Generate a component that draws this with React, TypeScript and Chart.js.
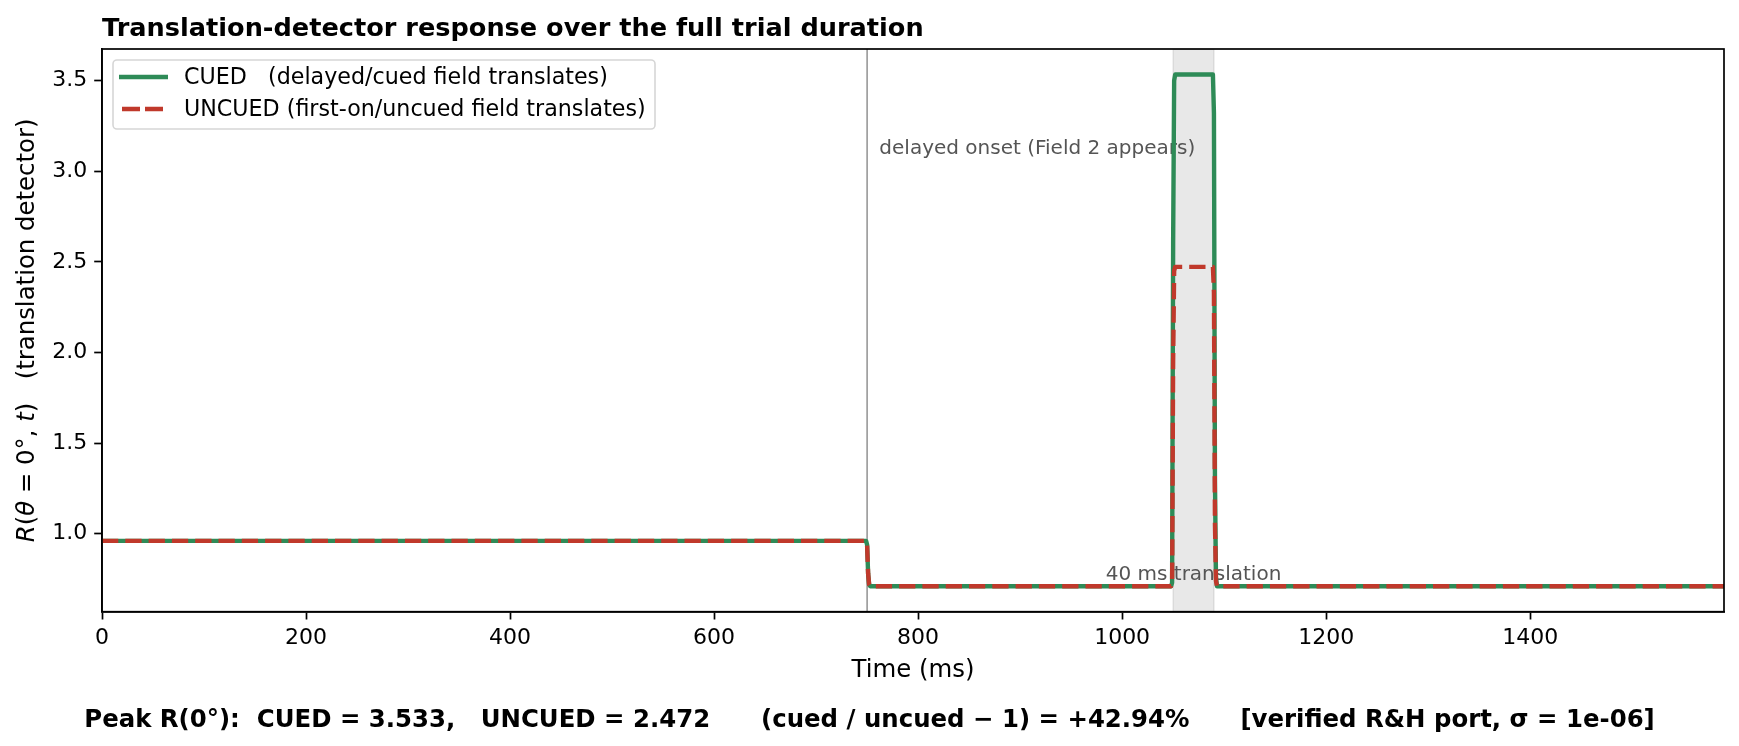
import React, { useEffect, useRef } from "react";
import { Chart, registerables } from "chart.js";

Chart.register(...registerables);

// ---- data ----
const timeMs = [0, 749, 750, 751, 752, 753, 1048, 1049, 1050, 1051, 1052, 1089, 1090, 1091, 1092, 1093, 1590];
const cuedR = [0.96, 0.96, 0.94, 0.78, 0.72, 0.71, 0.71, 0.73, 2.6, 3.5, 3.533, 3.533, 3.32, 1.3, 0.76, 0.71, 0.71];
const uncuedR = [0.96, 0.96, 0.94, 0.78, 0.72, 0.71, 0.71, 0.72, 1.95, 2.45, 2.472, 2.472, 2.33, 1.05, 0.74, 0.71, 0.71];
const xTicks = [0, 200, 400, 600, 800, 1000, 1200, 1400];
const yTicks = [1.0, 1.5, 2.0, 2.5, 3.0, 3.5];
const xRange = [0, 1590];
const yRange = [0.5695, 3.674];
const onsetMs = 750;
const translationWindow = [1050, 1090];
const seriesLabels = ["CUED   (delayed/cued field translates)", "UNCUED (first-on/uncued field translates)"];
const titleText = "Translation-detector response over the full trial duration";
const xLabel = "Time (ms)";
const footerText = "Peak R(0°):  CUED = 3.533,   UNCUED = 2.472      (cued / uncued \u2212 1) = +42.94%      [verified R&H port, \u03c3 = 1e-06]";
const onsetText = "delayed onset (Field 2 appears)";
const windowText = "40 ms translation";

const GREEN = "#2e8b57";
const RED = "#c0392b";
const FONT = "'DejaVu Sans', sans-serif";
const W = 1739;
const H = 746;
const LW = 4.4;
const DASH = [16.3, 7];

const overlay = {
  id: "overlay",
  beforeDatasetsDraw(chart: any) {
    const { ctx, chartArea: a, scales } = chart;
    const x = scales.x;
    const y = scales.y;
    ctx.save();
    ctx.beginPath();
    ctx.rect(a.left, a.top, a.right - a.left, a.bottom - a.top);
    ctx.clip();
    // shaded window
    const x0 = x.getPixelForValue(translationWindow[0]);
    const x1 = x.getPixelForValue(translationWindow[1]);
    ctx.fillStyle = "rgba(128,128,128,0.18)";
    ctx.fillRect(x0, a.top, x1 - x0, a.bottom - a.top);
    ctx.strokeStyle = "rgba(128,128,128,0.18)";
    ctx.lineWidth = 1.5;
    ctx.strokeRect(x0, a.top, x1 - x0, a.bottom - a.top);
    // onset line
    const xo = x.getPixelForValue(onsetMs);
    ctx.strokeStyle = "#808080";
    ctx.lineWidth = 1.3;
    ctx.beginPath();
    ctx.moveTo(xo, a.top);
    ctx.lineTo(xo, a.bottom);
    ctx.stroke();
    // annotations
    ctx.fillStyle = "#555555";
    ctx.font = `20px ${FONT}`;
    ctx.textBaseline = "middle";
    ctx.textAlign = "left";
    ctx.fillText(onsetText, x.getPixelForValue(762), y.getPixelForValue(3.122));
    ctx.textAlign = "center";
    ctx.fillText(windowText, x.getPixelForValue(1070), y.getPixelForValue(0.775));
    ctx.restore();
  },
  afterDraw(chart: any) {
    const { ctx, chartArea: a } = chart;
    ctx.save();
    // frame
    ctx.strokeStyle = "#000";
    ctx.lineWidth = 1.7;
    ctx.strokeRect(a.left, a.top, a.right - a.left, a.bottom - a.top);

    // legend
    const lx = 113, ly = 60, lw = 542, lh = 69;
    ctx.fillStyle = "rgba(255,255,255,0.8)";
    ctx.strokeStyle = "#d6d6d6";
    ctx.lineWidth = 1.6;
    ctx.beginPath();
    (ctx as any).roundRect(lx, ly, lw, lh, 4);
    ctx.fill();
    ctx.stroke();
    const rows = [77, 109];
    const colors = [GREEN, RED];
    for (let i = 0; i < 2; i++) {
      ctx.strokeStyle = colors[i];
      ctx.lineWidth = LW;
      ctx.lineCap = "butt";
      ctx.setLineDash(i === 1 ? [18, 5] : []);
      ctx.beginPath();
      ctx.moveTo(i === 1 ? 122 : 119, rows[i]);
      ctx.lineTo(i === 1 ? 163 : 168, rows[i]);
      ctx.stroke();
      ctx.setLineDash([]);
      ctx.fillStyle = "#000";
      ctx.font = `22.2px ${FONT}`;
      ctx.textAlign = "left";
      ctx.textBaseline = "middle";
      ctx.fillText(seriesLabels[i], 184, rows[i] + 1);
    }

    // title
    ctx.fillStyle = "#000";
    ctx.font = `bold 25.6px ${FONT}`;
    ctx.textAlign = "left";
    ctx.textBaseline = "alphabetic";
    ctx.fillText(titleText, a.left, 36);

    // x label
    ctx.font = `24.4px ${FONT}`;
    ctx.textAlign = "center";
    ctx.textBaseline = "middle";
    ctx.fillText(xLabel, (a.left + a.right) / 2, 671);

    // footer
    ctx.font = `bold 24.4px ${FONT}`;
    ctx.fillText(footerText, W / 2, 721);

    // y label with italic math parts
    const segs: [string, boolean][] = [
      ["R", true], ["(", false], ["\u03b8", true], [" = 0°, ", false], ["t", true], [")   (translation detector)", false],
    ];
    const fontN = `24.4px ${FONT}`;
    const fontI = `italic 24.4px ${FONT}`;
    let total = 0;
    for (const [s, it] of segs) {
      ctx.font = it ? fontI : fontN;
      total += ctx.measureText(s).width;
    }
    ctx.translate(28, (a.top + a.bottom) / 2);
    ctx.rotate(-Math.PI / 2);
    ctx.textAlign = "left";
    ctx.textBaseline = "middle";
    let cx = -total / 2;
    for (const [s, it] of segs) {
      ctx.font = it ? fontI : fontN;
      ctx.fillText(s, cx, 0);
      cx += ctx.measureText(s).width;
    }
    ctx.restore();
  },
};

export default function App() {
  const ref = useRef<HTMLCanvasElement | null>(null);
  useEffect(() => {
    document.body.style.margin = "0";
    const canvas = ref.current!;
    const chart = new Chart(canvas, {
      type: "line",
      data: {
        datasets: [
          {
            label: seriesLabels[0],
            data: timeMs.map((t, i) => ({ x: t, y: cuedR[i] })),
            borderColor: GREEN,
            borderWidth: LW,
            pointRadius: 0,
            tension: 0,
            order: 2,
            borderJoinStyle: "round",
          },
          {
            label: seriesLabels[1],
            data: timeMs.map((t, i) => ({ x: t, y: uncuedR[i] })),
            borderColor: RED,
            borderWidth: LW,
            borderDash: DASH,
            borderCapStyle: "butt",
            pointRadius: 0,
            tension: 0,
            order: 1,
            borderJoinStyle: "round",
          },
        ],
      },
      options: {
        animation: false,
        responsive: false,
        devicePixelRatio: 1,
        layout: { padding: { top: 49, right: 15, left: 0, bottom: 0 } },
        plugins: { legend: { display: false }, title: { display: false }, tooltip: { enabled: false } },
        scales: {
          x: {
            type: "linear",
            min: xRange[0],
            max: xRange[1],
            afterFit: (s: any) => { s.height = 134.3; },
            afterBuildTicks: (s: any) => { s.ticks = xTicks.map((v) => ({ value: v })); },
            border: { display: true, color: "#000", width: 1.7 },
            grid: { drawOnChartArea: false, drawTicks: true, tickLength: 7.8, color: "#000", tickWidth: 1.7 },
            ticks: {
              padding: 6,
              color: "#000",
              font: { family: FONT, size: 22 },
              maxRotation: 0,
              autoSkip: false,
              callback: (v: any) => String(v),
            },
          },
          y: {
            type: "linear",
            min: yRange[0],
            max: yRange[1],
            afterFit: (s: any) => { s.width = 102; },
            afterBuildTicks: (s: any) => { s.ticks = yTicks.map((v) => ({ value: v })); },
            border: { display: true, color: "#000", width: 1.7 },
            grid: { drawOnChartArea: false, drawTicks: true, tickLength: 7.8, color: "#000", tickWidth: 1.7 },
            ticks: {
              padding: 7,
              color: "#000",
              autoSkip: false,
              font: { family: FONT, size: 22 },
              callback: (v: any) => Number(v).toFixed(1),
            },
          },
        },
      },
      plugins: [overlay],
    } as any);
    return () => chart.destroy();
  }, []);
  return (
    <div style={{ position: "absolute", left: 0, top: 0, width: W, height: H, background: "#fff" }}>
      <canvas ref={ref} width={W} height={H} style={{ width: W, height: H, display: "block" }} />
    </div>
  );
}
